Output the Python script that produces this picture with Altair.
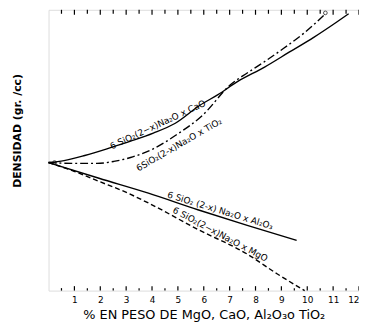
import altair as alt
import pandas as pd

# --- data (x: % en peso, y: densidad, arbitrary units) ---
cao_x = [0, 0.6, 1.4, 2.4, 3.2, 4.05, 4.9, 5.85, 6.55, 7.3, 8.35, 9.3, 10.25, 11.1, 11.6]
cao_y = [45.6, 46.3, 48.1, 50.9, 53.3, 56.1, 59.6, 66.0, 69.8, 74.4, 79.6, 84.9, 90.2, 95.4, 98.6]

tio2_x = [0, 1.11, 1.87, 2.52, 3.17, 4.05, 4.93, 5.96, 7.03, 7.68, 8.33, 9.09, 9.86, 10.66]
tio2_y = [45.6, 45.3, 45.3, 46.0, 47.4, 50.5, 55.4, 62.5, 73.3, 77.5, 81.4, 86.3, 91.6, 98.2]

al2o3_x = [0, 1.95, 3.86, 5.77, 7.68, 9.59]
al2o3_y = [45.6, 40.0, 34.7, 28.8, 23.2, 17.9]

mgo_x = [0, 0.99, 1.95, 2.90, 3.86, 5.77, 7.68, 8.83, 9.90]
mgo_y = [45.6, 42.5, 38.9, 35.4, 31.2, 21.8, 13.0, 6.0, 0.0]

circle_x = [0.23, 10.7]
circle_y = [45.6, 98.9]

tick_major = [1, 2, 3, 4, 5, 6, 7, 8, 9, 10, 11, 12]
tick_minor = [0.5, 1.5, 2.5, 3.5, 4.5, 5.5, 6.5, 7.5, 8.5, 9.5, 10.5, 11.5]

labels = ["6 SiO\u2082(2\u2212x)Na\u2082O x CaO",
          "6SiO\u2082(2-x)Na\u2082O x TiO\u2082",
          "6 SiO\u2082 (2-x) Na\u2082O x Al\u2082O\u2083",
          "6 SiO\u2082(2\u2212x)Na\u2082O x MgO"]
label_x = [4.32, 4.93, 6.57, 6.53]
label_y = [57.2, 53.8, 26.5, 18.2]
label_angle = [335, 330, 17, 28]
label_base = ["bottom", "top", "bottom", "bottom"]

W, H = 314, 284
FONT = "DejaVu Sans"

xs = alt.Scale(domain=[0, 12], nice=False, zero=False)
ys = alt.Scale(domain=[0, 100], nice=False, zero=False)

xaxis = alt.Axis(values=tick_major, format="d", ticks=False, domain=False, grid=False,
                 labelFont=FONT, labelFontSize=9, labelPadding=5, labelColor="black",
                 labelOverlap=False, labelFlush=False,
                 labelAlign=alt.condition("datum.value == 12", alt.value("right"), alt.value("center")),
                 title="% EN  PESO  DE  MgO, CaO, Al\u2082O\u2083o TiO\u2082",
                 titleFont=FONT, titleFontSize=13, titleFontWeight="normal",
                 titleColor="black", titlePadding=4)
yaxis = alt.Axis(labels=False, ticks=False, domain=False, grid=False,
                 title="DENSIDAD   (gr. /cc)", titleFont=FONT, titleFontSize=11,
                 titleFontWeight="bold", titleColor="black", titleAngle=270,
                 titleX=-31, titleY=122, titleAlign="center", titleBaseline="middle")


def curve(xv, yv, dash=None):
    df = pd.DataFrame({"x": xv, "y": yv})
    kw = dict(color="black", strokeWidth=1.4, interpolate="monotone")
    if dash:
        kw["strokeDash"] = dash
    return alt.Chart(df).mark_line(**kw).encode(
        x=alt.X("x:Q", scale=xs, axis=xaxis),
        y=alt.Y("y:Q", scale=ys, axis=yaxis),
        order="x:Q",
    )


layers = [
    curve(cao_x, cao_y),
    curve(tio2_x, tio2_y, [8, 3, 2, 3]),
    curve(al2o3_x, al2o3_y),
    curve(mgo_x, mgo_y, [5, 3]),
]

circ = alt.Chart(pd.DataFrame({"x": circle_x, "y": circle_y})).mark_point(
    shape="circle", size=14, filled=False, color="black", strokeWidth=1
).encode(x=alt.X("x:Q", scale=xs, axis=xaxis), y=alt.Y("y:Q", scale=ys, axis=yaxis))
layers.append(circ)

for t, lx, ly, ang, base in zip(labels, label_x, label_y, label_angle, label_base):
    layers.append(
        alt.Chart(pd.DataFrame({"t": [t], "x": [lx], "y": [ly]})).mark_text(
            font=FONT, fontSize=9, angle=ang, baseline=base, align="center",
            color="black", dy=(-1 if base == "bottom" else 2)
        ).encode(x=alt.X("x:Q", scale=xs, axis=xaxis), y=alt.Y("y:Q", scale=ys, axis=yaxis),
                 text="t:N")
    )

# inward tick marks on bottom and top frame
def ticks(vals, y1, y2, w=1.2):
    return alt.Chart(pd.DataFrame({"x": vals})).mark_rule(color="black", strokeWidth=w).encode(
        x=alt.X("x:Q", scale=xs, axis=xaxis), y=alt.value(y1), y2=alt.value(y2))

layers += [
    ticks(tick_major, H, H - 4.5),
    ticks(tick_minor, H, H - 2.5),
    ticks(tick_major, 0, 5),
    ticks(tick_minor, 0, 4),
]

chart = alt.layer(*layers).properties(
    width=W, height=H,
    autosize=alt.AutoSizeParams(type="none"),
    padding={"left": 41, "top": 0, "right": 0, "bottom": 36},
).configure_view(stroke="black", strokeWidth=1.5).configure(
    background="white"
).configure_axisX(labelOverlap=False, labelFlush=False)

chart.save("out.html", embed_options={"renderer": "svg", "actions": False})
